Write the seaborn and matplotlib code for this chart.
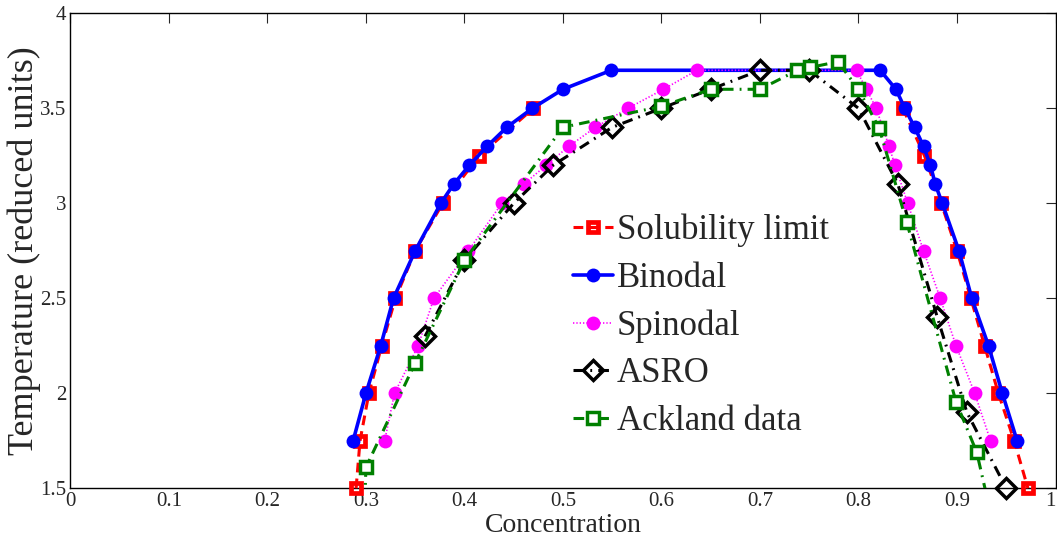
import numpy as np
import pandas as pd
import matplotlib
matplotlib.use("Agg")
import matplotlib.pyplot as plt
import seaborn as sns

# Phase-diagram data: concentration vs reduced temperature
sol_left_c = [0.290, 0.294, 0.303, 0.316, 0.330, 0.350, 0.378, 0.415, 0.470]
sol_left_T = [1.50, 1.75, 2.00, 2.25, 2.50, 2.75, 3.00, 3.25, 3.50]
sol_right_c = [0.845, 0.867, 0.884, 0.900, 0.914, 0.928, 0.942, 0.958, 0.972]
sol_right_T = [3.50, 3.25, 3.00, 2.75, 2.50, 2.25, 2.00, 1.75, 1.50]

binodal_c = [0.287, 0.300, 0.315, 0.328, 0.350, 0.376, 0.389, 0.405, 0.423,
             0.443, 0.469, 0.500, 0.549, 0.822, 0.838, 0.847, 0.857, 0.866,
             0.873, 0.878, 0.885, 0.902, 0.915, 0.932, 0.946, 0.961]
binodal_T = [1.75, 2.00, 2.25, 2.50, 2.75, 3.00, 3.10, 3.20, 3.30,
             3.40, 3.50, 3.60, 3.70, 3.70, 3.60, 3.50, 3.40, 3.30,
             3.20, 3.10, 3.00, 2.75, 2.50, 2.25, 2.00, 1.75]

spinodal_c = [0.319, 0.329, 0.353, 0.369, 0.404, 0.438, 0.460, 0.483, 0.506,
              0.533, 0.566, 0.602, 0.636, 0.798, 0.808, 0.818, 0.831, 0.837,
              0.850, 0.866, 0.883, 0.899, 0.918, 0.934]
spinodal_T = [1.75, 2.00, 2.25, 2.50, 2.75, 3.00, 3.10, 3.20, 3.30,
              3.40, 3.50, 3.60, 3.70, 3.70, 3.60, 3.50, 3.30, 3.20,
              3.00, 2.75, 2.50, 2.25, 2.00, 1.75]

asro_c = [0.360, 0.400, 0.450, 0.490, 0.550, 0.600, 0.650, 0.700, 0.750,
          0.800, 0.840, 0.880, 0.910, 0.950]
asro_T = [2.30, 2.70, 3.00, 3.20, 3.40, 3.50, 3.60, 3.70, 3.70,
          3.50, 3.10, 2.40, 1.90, 1.50]

ackland_c = [0.298, 0.300, 0.350, 0.400, 0.500, 0.600, 0.650, 0.700, 0.738,
             0.751, 0.779, 0.800, 0.821, 0.849, 0.899, 0.920, 0.935]
ackland_T = [1.30, 1.61, 2.16, 2.70, 3.40, 3.51, 3.60, 3.60, 3.70,
             3.715, 3.745, 3.60, 3.395, 2.90, 1.955, 1.69, 1.35]

series_labels = ["Solubility limit", "Binodal", "Spinodal", "ASRO", "Ackland data"]
x_ticks = [0, 0.1, 0.2, 0.3, 0.4, 0.5, 0.6, 0.7, 0.8, 0.9, 1.0]
x_tick_labels = ["0", "0.1", "0.2", "0.3", "0.4", "0.5", "0.6", "0.7", "0.8", "0.9", "1"]
y_ticks = [1.5, 2.0, 2.5, 3.0, 3.5, 4.0]
y_tick_labels = ["1.5", "2", "2.5", "3", "3.5", "4"]

sns.set_theme(style="white")
plt.rcParams["font.family"] = ["Liberation Serif", "DejaVu Serif"]

fig = plt.figure(figsize=(10.57, 5.42), dpi=100)
ax = fig.add_axes([0.0666, 0.0991, 0.932, 0.8764])


def draw(c, T, **kws):
    df = pd.DataFrame({"c": c, "T": T})
    sns.lineplot(data=df, x="c", y="T", ax=ax, sort=False, estimator=None,
                 legend=False, **kws)
    return ax.lines[-1]


red_kws = dict(color="#ff0000", linestyle=(0, (3.2, 2.0)), linewidth=2.2,
               marker="s", markersize=7.5, markeredgewidth=3.4,
               markeredgecolor="#ff0000", markerfacecolor="none",
               clip_on=False, zorder=3)
h_sol = draw(sol_left_c, sol_left_T, **red_kws)
draw(sol_right_c, sol_right_T, **red_kws)

h_bin = draw(binodal_c, binodal_T, color="#0000ff", linestyle="-", linewidth=2.6,
             marker="o", markersize=10, markeredgewidth=0,
             markeredgecolor="#0000ff", markerfacecolor="#0000ff",
             clip_on=False, zorder=4)

h_spi = draw(spinodal_c, spinodal_T, color="#ff00ff", linestyle=(0, (0.8, 1.2)),
             linewidth=1.2, marker="o", markersize=10, markeredgewidth=0,
             markeredgecolor="#ff00ff", markerfacecolor="#ff00ff",
             clip_on=False, zorder=5)

h_asro = draw(asro_c, asro_T, color="black", linestyle=(0, (3.5, 2.0, 0.6, 2.0)),
              linewidth=2.2, marker="D", markersize=10, markeredgewidth=2.5,
              markeredgecolor="black", markerfacecolor="none",
              clip_on=False, zorder=6)

h_ack = draw(ackland_c, ackland_T, color="#008000", linestyle=(0, (3.5, 2.0, 0.6, 2.0)),
             linewidth=2.2, marker="s", markersize=8.5, markeredgewidth=2.5,
             markeredgecolor="#008000", markerfacecolor="white",
             clip_on=True, zorder=7)

ax.set_xlim(0, 1)
ax.set_ylim(1.5, 4)
ax.set_xticks(x_ticks)
ax.set_xticklabels(x_tick_labels)
ax.set_yticks(y_ticks)
ax.set_yticklabels(y_tick_labels)
ax.tick_params(direction="in", top=True, right=True, length=7, width=0.8,
               labelsize=15, colors="#262626")
ax.tick_params(axis="x", pad=3)
ax.tick_params(axis="y", pad=3)
# keep the last x tick label inside the figure edge
ax.get_xticklabels()[-1].set_horizontalalignment("right")
for sp in ax.spines.values():
    sp.set_color("black")
    sp.set_linewidth(1.0)

ax.set_xlabel("Concentration", fontsize=20, color="#262626", labelpad=1)
ax.set_ylabel("Temperature (reduced units)", fontsize=26, color="#262626", labelpad=-1)

ax.legend([h_sol, h_bin, h_spi, h_asro, h_ack], series_labels,
          loc="upper left", bbox_to_anchor=(0.510, 0.578), frameon=False,
          fontsize=25, handlelength=1.15, handletextpad=0.12, labelspacing=0.42,
          borderpad=0, borderaxespad=0, labelcolor="#262626")

fig.savefig("out.png", dpi=100)
